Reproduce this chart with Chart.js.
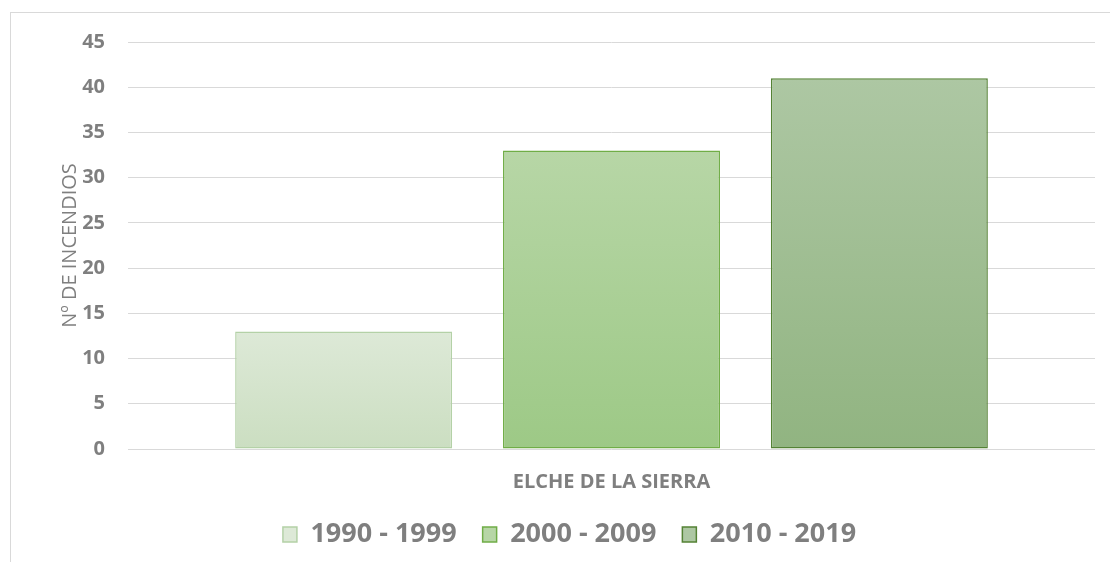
<!DOCTYPE html>
<html lang="es">
<head>
<meta charset="UTF-8">
<title>Nº de incendios - Elche de la Sierra</title>
<script src="https://cdn.jsdelivr.net/npm/chart.js"></script>
<style>
    html, body { margin: 0; padding: 0; background: #fff; }
    #wrap { width: 1110px; height: 562px; position: relative; }
</style>
</head>
<body>
<div id="wrap"><canvas id="grafico"></canvas></div>
<script>
    // datos
    const categorias = ['ELCHE DE LA SIERRA'];
    const decadas = ['1990 - 1999', '2000 - 2009', '2010 - 2019'];
    const incendios1990 = [13];
    const incendios2000 = [33];
    const incendios2010 = [41];
    const ticksY = [0, 5, 10, 15, 20, 25, 30, 35, 40, 45];

    const gris = '#7f7f7f';
    const fuente = '"Open Sans", Lato, sans-serif';

    // colores (arriba, abajo, borde) para cada década
    const estilos = [
        ['#dde9d7', '#cbdec1', '#b4d1a7'],
        ['#b7d6a6', '#9dc986', '#70ad47'],
        ['#adc7a3', '#91b481', '#548235']
    ];

    // degradado vertical por barra, como en Excel
    function degradado(arriba, abajo) {
        return function (c) {
            const chart = c.chart;
            if (!chart.chartArea || c.type !== 'data') return abajo;
            const y = chart.scales.y;
            const g = chart.ctx.createLinearGradient(0, y.getPixelForValue(c.raw), 0, y.getPixelForValue(0));
            g.addColorStop(0, arriba);
            g.addColorStop(1, abajo);
            return g;
        };
    }

    const series = [incendios1990, incendios2000, incendios2010];
    const datasets = series.map((valores, i) => ({
        label: decadas[i],
        data: valores,
        backgroundColor: degradado(estilos[i][0], estilos[i][1]),
        borderColor: estilos[i][2],
        borderWidth: 1.5,
        borderSkipped: false,
        categoryPercentage: 0.831,
        barPercentage: 0.81
    }));

    // marco gris y fondo blanco
    const marco = {
        id: 'marco',
        beforeDraw(chart) {
            const ctx = chart.ctx;
            ctx.save();
            ctx.fillStyle = '#fff';
            ctx.fillRect(0, 0, chart.width, chart.height);
            ctx.strokeStyle = '#d9d9d9';
            ctx.lineWidth = 1;
            ctx.strokeRect(10.5, 12.5, 1200, 600);
            ctx.restore();
        },
        // la leyenda del original no está centrada en el lienzo
        afterLayout(chart) {
            chart.legend.left += 22;
            chart.legend.right += 22;
        }
    };

    new Chart(document.getElementById('grafico'), {
        type: 'bar',
        data: { labels: categorias, datasets: datasets },
        plugins: [marco],
        options: {
            responsive: true,
            maintainAspectRatio: false,
            animation: false,
            layout: { padding: { top: 42, right: 15, bottom: 4, left: 0 } },
            plugins: {
                tooltip: { enabled: false },
                legend: {
                    position: 'bottom',
                    labels: {
                        color: gris,
                        font: { family: fuente, size: 27, weight: 'bold' },
                        boxWidth: 14,
                        boxHeight: 15,
                        padding: 26,
                        generateLabels(chart) {
                            return decadas.map((d, i) => ({
                                text: d,
                                fillStyle: estilos[i][0],
                                strokeStyle: estilos[i][2],
                                lineWidth: 1.5,
                                fontColor: gris,
                                datasetIndex: i
                            }));
                        }
                    }
                }
            },
            scales: {
                x: {
                    grid: { display: false, drawTicks: false },
                    border: { display: false },
                    ticks: {
                        color: gris,
                        padding: 21,
                        font: { family: fuente, size: 20, weight: 'bold' }
                    },
                    afterFit(s) { s.height = 46; }
                },
                y: {
                    min: 0,
                    max: 45,
                    afterBuildTicks(s) { s.ticks = ticksY.map(v => ({ value: v })); },
                    grid: { color: '#d9d9d9', lineWidth: 1, drawTicks: false },
                    border: { display: false },
                    ticks: {
                        color: gris,
                        padding: 23,
                        font: { family: fuente, size: 20, weight: 'bold' }
                    },
                    title: {
                        display: true,
                        text: 'Nº DE INCENDIOS',
                        color: gris,
                        padding: { top: 58, bottom: 0 },
                        font: { family: fuente, size: 20 }
                    },
                    afterFit(s) { s.width = 128; }
                }
            }
        }
    });
</script>
</body>
</html>
